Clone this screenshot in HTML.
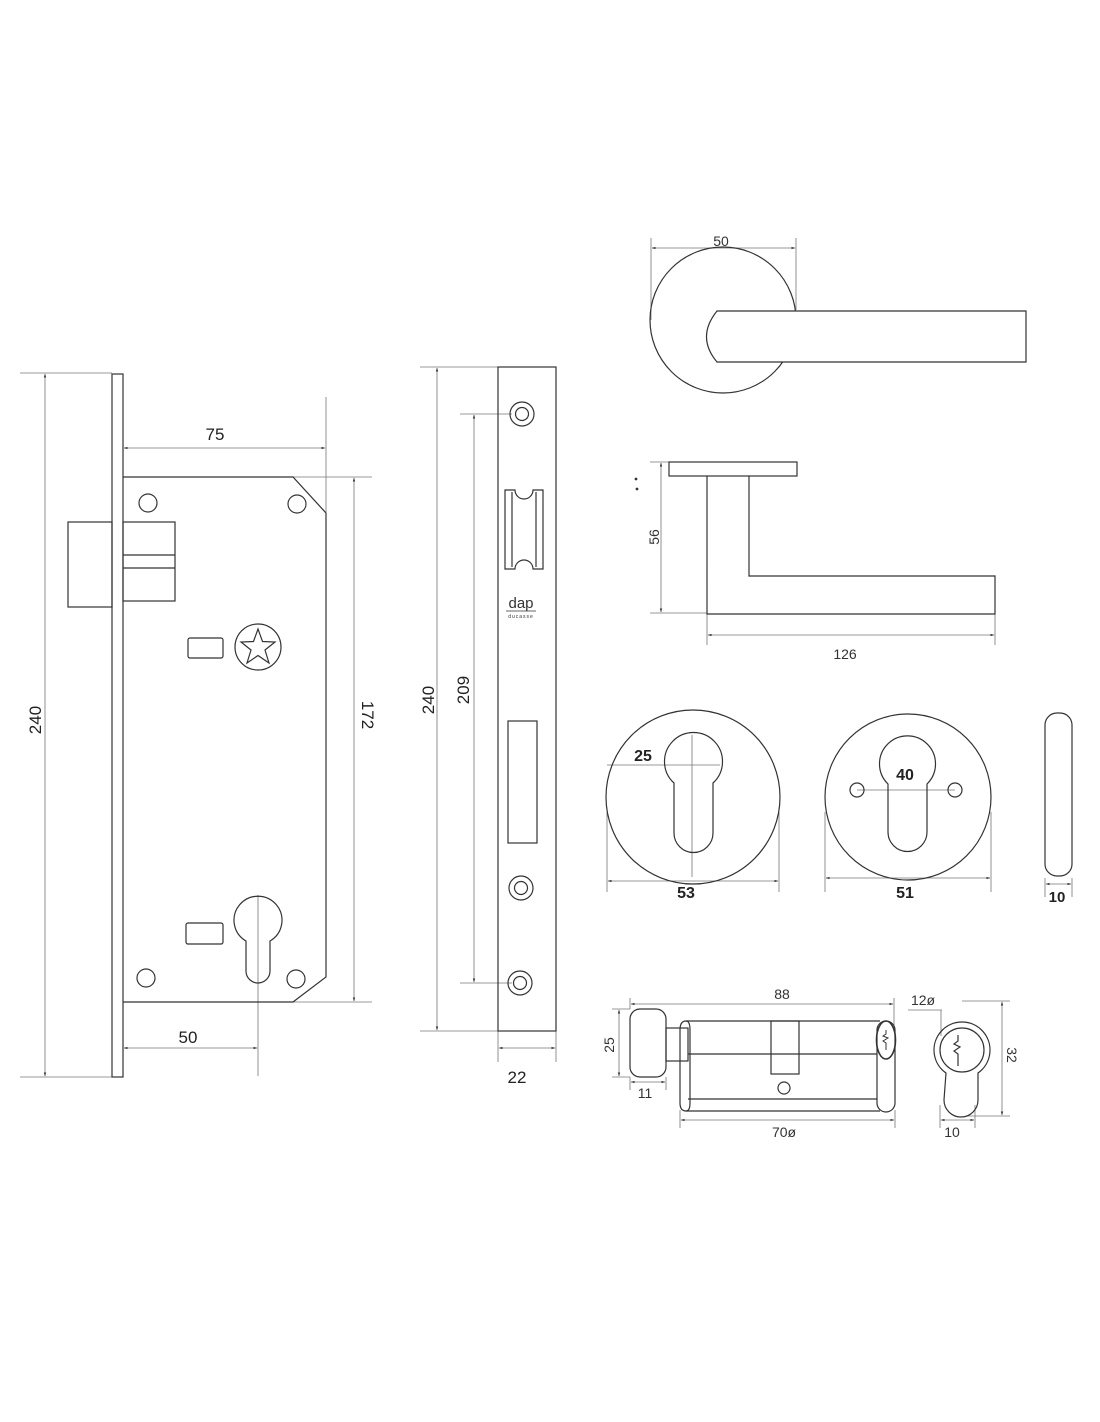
<!DOCTYPE html>
<html><head><meta charset="utf-8"><style>html,body{margin:0;padding:0;background:#fff}svg{display:block}</style></head>
<body>
<svg width="1100" height="1422" viewBox="0 0 1100 1422" xmlns="http://www.w3.org/2000/svg" font-family="Liberation Sans, sans-serif" fill="none" stroke="#333" stroke-width="1.2">
<defs>
<marker id="a" viewBox="0 0 10 10" refX="9" refY="5" markerWidth="5" markerHeight="5" orient="auto-start-reverse"><path d="M0,2 L10,5 L0,8z" fill="#333" stroke="none"/></marker>
</defs>
<g stroke="#777" stroke-width="0.8">
<!-- lock body dims -->
<line x1="20" y1="373" x2="112" y2="373"/><line x1="20" y1="1077" x2="112" y2="1077"/>
<line x1="45" y1="374" x2="45" y2="1076" marker-start="url(#a)" marker-end="url(#a)"/>
<line x1="326" y1="397" x2="326" y2="512"/>
<line x1="124" y1="448" x2="325" y2="448" marker-start="url(#a)" marker-end="url(#a)"/>
<line x1="290" y1="477" x2="372" y2="477"/><line x1="293" y1="1002" x2="372" y2="1002"/>
<line x1="354" y1="478" x2="354" y2="1001" marker-start="url(#a)" marker-end="url(#a)"/>
<line x1="258" y1="895" x2="258" y2="1076"/>
<line x1="124" y1="1048" x2="257" y2="1048" marker-start="url(#a)" marker-end="url(#a)"/>
<!-- strike dims -->
<line x1="420" y1="367" x2="498" y2="367"/><line x1="420" y1="1031" x2="498" y2="1031"/>
<line x1="437" y1="368" x2="437" y2="1030" marker-start="url(#a)" marker-end="url(#a)"/>
<line x1="460" y1="414" x2="512" y2="414"/><line x1="460" y1="983" x2="512" y2="983"/>
<line x1="474" y1="415" x2="474" y2="982" marker-start="url(#a)" marker-end="url(#a)"/>
<line x1="498" y1="1031" x2="498" y2="1062"/><line x1="556" y1="1031" x2="556" y2="1062"/>
<line x1="499" y1="1048" x2="555" y2="1048" marker-start="url(#a)" marker-end="url(#a)"/>
<!-- handle dims -->
<line x1="651" y1="238" x2="651" y2="320"/><line x1="796" y1="238" x2="796" y2="310"/>
<line x1="652" y1="248" x2="795" y2="248" marker-start="url(#a)" marker-end="url(#a)"/>
<line x1="650" y1="462" x2="669" y2="462"/><line x1="650" y1="613" x2="707" y2="613"/>
<line x1="661" y1="463" x2="661" y2="612" marker-start="url(#a)" marker-end="url(#a)"/>
<line x1="707" y1="614" x2="707" y2="645"/><line x1="995" y1="614" x2="995" y2="645"/>
<line x1="708" y1="635" x2="994" y2="635" marker-start="url(#a)" marker-end="url(#a)"/>
<!-- rosette dims -->
<line x1="607" y1="812" x2="607" y2="892"/><line x1="779" y1="812" x2="779" y2="892"/>
<line x1="608" y1="881" x2="778" y2="881" marker-start="url(#a)" marker-end="url(#a)"/>
<line x1="607" y1="765" x2="720" y2="765"/><line x1="692" y1="735" x2="692" y2="877"/>
<line x1="825" y1="812" x2="825" y2="892"/><line x1="991" y1="812" x2="991" y2="892"/>
<line x1="826" y1="878" x2="990" y2="878" marker-start="url(#a)" marker-end="url(#a)"/>
<line x1="857" y1="790" x2="955" y2="790"/>
<line x1="1045" y1="878" x2="1045" y2="897"/><line x1="1072" y1="878" x2="1072" y2="897"/>
<line x1="1046" y1="884" x2="1071" y2="884" marker-start="url(#a)" marker-end="url(#a)"/>
<!-- cylinder dims -->
<line x1="630" y1="998" x2="630" y2="1009"/><line x1="894" y1="998" x2="894" y2="1025"/>
<line x1="631" y1="1004" x2="893" y2="1004" marker-start="url(#a)" marker-end="url(#a)"/>
<line x1="612" y1="1009" x2="630" y2="1009"/><line x1="612" y1="1077" x2="630" y2="1077"/>
<line x1="619" y1="1010" x2="619" y2="1076" marker-start="url(#a)" marker-end="url(#a)"/>
<line x1="630" y1="1077" x2="630" y2="1090"/><line x1="666" y1="1077" x2="666" y2="1090"/>
<line x1="631" y1="1082" x2="665" y2="1082" marker-start="url(#a)" marker-end="url(#a)"/>
<line x1="680" y1="1110" x2="680" y2="1128"/><line x1="895" y1="1110" x2="895" y2="1128"/>
<line x1="681" y1="1120" x2="894" y2="1120" marker-start="url(#a)" marker-end="url(#a)"/>
<line x1="908" y1="1010" x2="942" y2="1010"/><line x1="941" y1="1010" x2="941" y2="1036"/>
<line x1="962" y1="1001" x2="1010" y2="1001"/><line x1="968" y1="1116" x2="1010" y2="1116"/>
<line x1="1002" y1="1002" x2="1002" y2="1115" marker-start="url(#a)" marker-end="url(#a)"/>
<line x1="940" y1="1105" x2="940" y2="1128"/><line x1="975" y1="1105" x2="975" y2="1128"/>
<line x1="941" y1="1120" x2="974" y2="1120" marker-start="url(#a)" marker-end="url(#a)"/>
</g>

<!-- LOCK BODY -->
<rect x="112" y="374" width="11" height="703"/>
<path d="M123,477 L293,477 L326,513 L326,977 L293,1002 L123,1002"/>
<circle cx="148" cy="503" r="9"/><circle cx="297" cy="504" r="9"/>
<circle cx="146" cy="978" r="9"/><circle cx="296" cy="979" r="9"/>
<rect x="68" y="522" width="44" height="85"/>
<rect x="123" y="522" width="52" height="79"/>
<line x1="123" y1="555" x2="175" y2="555"/><line x1="123" y1="568" x2="175" y2="568"/>
<rect x="188" y="638" width="35" height="20" rx="2"/>
<circle cx="258" cy="647" r="23"/>
<path d="M258,629 L262.5,641.5 L275,642 L265,650 L269,663 L258,655.5 L247,663 L251,650 L241,642 L253.5,641.5Z"/>
<rect x="186" y="923" width="37" height="21" rx="2"/>
<path d="M246,941 A24,24 0 1 1 270,941 L270,971 A12,12 0 0 1 246,971 Z"/>

<!-- STRIKE PLATE -->
<rect x="498" y="367" width="58" height="664"/>
<circle cx="522" cy="414" r="12"/><circle cx="522" cy="414" r="6.5"/>
<circle cx="521" cy="888" r="12"/><circle cx="521" cy="888" r="6.5"/>
<circle cx="520" cy="983" r="12"/><circle cx="520" cy="983" r="6.5"/>
<path d="M505,490 L515,490 A9,9 0 0 0 533,490 L543,490 L543,569 L533,569 A9,9 0 0 0 515,569 L505,569 Z"/>
<line x1="512" y1="492" x2="512" y2="567"/><line x1="536" y1="492" x2="536" y2="567"/>
<text x="521" y="608" font-size="15" fill="#333" stroke="none" text-anchor="middle">dap</text>
<line x1="506" y1="611" x2="536" y2="611" stroke-width="0.7"/>
<text x="521" y="618" font-size="5" fill="#333" stroke="none" text-anchor="middle" letter-spacing="1">ducasse</text>
<rect x="508" y="721" width="29" height="122"/>

<!-- HANDLE TOP -->
<circle cx="723" cy="320" r="73"/>
<path d="M717,311 L1026,311 L1026,362 L717,362 Q696,337 717,311 Z" fill="#fff"/>
<!-- HANDLE SIDE -->
<rect x="669" y="462" width="128" height="14"/>
<path d="M707,476 L707,614 L995,614 L995,576 L749,576 L749,476"/>
<circle cx="636" cy="479" r="0.8" fill="#333"/><circle cx="637" cy="489" r="0.8" fill="#333"/>

<!-- ROSETTES -->
<circle cx="693" cy="797" r="87"/>
<path d="M674,783 A29,29 0 1 1 713,783 L713,833 A19.5,19.5 0 0 1 674,833 Z"/>
<circle cx="908" cy="797" r="83"/>
<path d="M888,784 A28,28 0 1 1 927,784 L927,832 A19.5,19.5 0 0 1 888,832 Z"/>
<circle cx="857" cy="790" r="7"/><circle cx="955" cy="790" r="7"/>
<rect x="1045" y="713" width="27" height="163" rx="12"/>

<!-- CYLINDER -->
<rect x="630" y="1009" width="36" height="68" rx="10"/>
<rect x="666" y="1028" width="22" height="33"/>
<path d="M686,1021 L880,1021 M686,1111 L880,1111 M688,1054 L878,1054 M688,1099 L878,1099"/>
<path d="M686,1021 Q680,1021 680,1030 L680,1103 Q680,1111 686,1111 Q690,1111 690,1103 L690,1030 Q690,1021 686,1021Z"/>
<rect x="771" y="1021" width="28" height="53"/>
<circle cx="784" cy="1088" r="6"/>
<rect x="877" y="1021" width="18" height="91" rx="9" fill="#fff"/>
<ellipse cx="886" cy="1040" rx="9.5" ry="19" stroke-width="1.6"/>
<path d="M886,1030 L886,1034 L883,1036 L888,1038 L883,1041 L886,1043 L886,1050" stroke-width="1"/>
<!-- profile -->
<path d="M946,1073 A28,28 0 1 1 978,1073 L978,1100 A17,17 0 0 1 944,1100 Z"/>
<circle cx="962" cy="1050" r="22"/>
<path d="M958,1035 L958,1041 L954,1044 L960,1047 L954,1051 L958,1054 L958,1066" stroke-width="1.2"/>

<!-- LABELS -->
<g fill="#222" stroke="none" font-size="17" text-anchor="middle">
<text x="215" y="440">75</text>
<text x="188" y="1043">50</text>
<text transform="translate(41,720) rotate(-90)">240</text>
<text transform="translate(362,715) rotate(90)">172</text>
<text transform="translate(434,700) rotate(-90)">240</text>
<text transform="translate(469,690) rotate(-90)">209</text>
<text x="517" y="1083">22</text>
<text x="643" y="761" font-weight="bold" font-size="16">25</text>
<text x="686" y="898" font-weight="bold" font-size="16">53</text>
<text x="905" y="780" font-weight="bold" font-size="16">40</text>
<text x="905" y="898" font-weight="bold" font-size="16">51</text>
<text x="1057" y="902" font-weight="bold" font-size="15">10</text>
</g>
<g fill="#333" stroke="none" font-size="14" text-anchor="middle">
<text x="721" y="246">50</text>
<text transform="translate(659,537) rotate(-90)">56</text>
<text x="845" y="659">126</text>
<text x="782" y="999">88</text>
<text transform="translate(614,1045) rotate(-90)">25</text>
<text x="645" y="1098">11</text>
<text x="784" y="1137">70ø</text>
<text x="923" y="1005">12ø</text>
<text transform="translate(1007,1055) rotate(90)">32</text>
<text x="952" y="1137">10</text>
</g>
</svg>
</body></html>
